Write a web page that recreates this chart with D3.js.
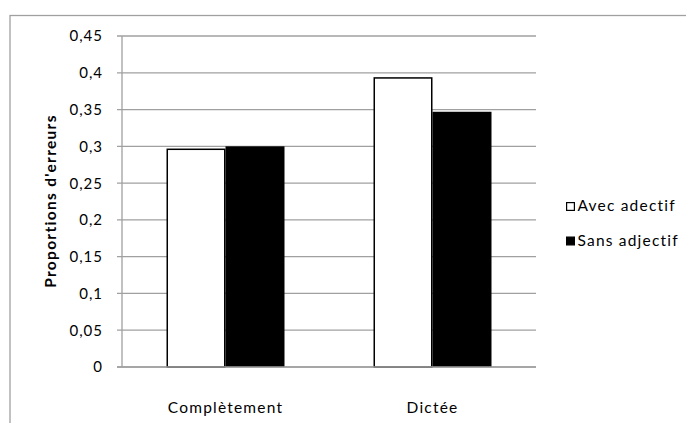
<!DOCTYPE html>
<html><head><meta charset="utf-8">
<script src="https://cdn.jsdelivr.net/npm/d3@7"></script>
<style>
html,body{margin:0;padding:0;background:#fff;}
text{font-family:Lato,"Open Sans",sans-serif;fill:#000;}
</style></head>
<body>
<svg id="chart" width="686" height="423"></svg>
<script>
const categories = ["Complètement", "Dictée"];
const seriesNames = ["Avec adectif", "Sans adjectif"];
const avecValues = [0.297, 0.394];
const sansValues = [0.300, 0.347];
const yTicks = [0, 0.05, 0.1, 0.15, 0.2, 0.25, 0.3, 0.35, 0.4, 0.45];
const yTickLabels = ["0", "0,05", "0,1", "0,15", "0,2", "0,25", "0,3", "0,35", "0,4", "0,45"];
const yTitle = "Proportions d'erreurs";

const svg = d3.select("#chart");
const m = {left: 122, right: 536, top: 36, bottom: 367};
const grid = "#a0a0a0";

// outer border (extends past viewport on right and bottom)
svg.append("rect").attr("x", 10).attr("y", 15.5).attr("width", 700).attr("height", 430)
  .attr("fill", "none").attr("stroke", grid).attr("stroke-width", 1.3);

const y = d3.scaleLinear().domain([0, 0.45]).range([m.bottom, m.top]);
const x0 = d3.scaleBand().domain(categories).range([m.left, m.right]).paddingInner(0.43).paddingOuter(0.215);
const x1 = d3.scaleBand().domain(seriesNames).range([0, x0.bandwidth()]);

// gridlines + ticks
svg.append("g").selectAll("line").data(yTicks).join("line")
  .attr("x1", m.left - 5).attr("x2", m.right)
  .attr("y1", d => y(d)).attr("y2", d => y(d))
  .attr("stroke", grid).attr("stroke-width", 1.3);

// y axis line
svg.append("line").attr("x1", m.left).attr("x2", m.left).attr("y1", m.top).attr("y2", m.bottom)
  .attr("stroke", grid).attr("stroke-width", 1.3);

// tick labels
svg.append("g").selectAll("text").data(yTicks).join("text")
  .attr("x", 103).attr("y", d => y(d)).attr("dy", "0.36em")
  .attr("text-anchor", "end").attr("font-size", 15).attr("letter-spacing", 1.0)
  .text((d, i) => yTickLabels[i]);

// bars
const data = categories.map((c, i) => ({cat: c, vals: [avecValues[i], sansValues[i]]}));
const g = svg.append("g").selectAll("g").data(data).join("g")
  .attr("transform", d => `translate(${x0(d.cat)},0)`);
g.selectAll("rect").data(d => d.vals.map((v, j) => ({s: seriesNames[j], v, j}))).join("rect")
  .attr("x", d => x1(d.s) + (d.j === 0 ? 0.75 : 0))
  .attr("width", d => x1.bandwidth() - (d.j === 0 ? 1.5 : 0))
  .attr("y", d => y(d.v) + (d.j === 0 ? 0.75 : 0))
  .attr("height", d => m.bottom - y(d.v) - (d.j === 0 ? 0.75 : 0))
  .attr("fill", d => d.j === 0 ? "#fff" : "#000")
  .attr("stroke", d => d.j === 0 ? "#000" : "none")
  .attr("stroke-width", 1.5);

// x axis line
svg.append("line").attr("x1", m.left - 5).attr("x2", m.right).attr("y1", m.bottom).attr("y2", m.bottom)
  .attr("stroke", grid).attr("stroke-width", 1.3);

// category labels
svg.append("g").selectAll("text").data(categories).join("text")
  .attr("x", d => x0(d) + x0.bandwidth() / 2).attr("y", 413)
  .attr("text-anchor", "middle").attr("font-size", 15.5).attr("letter-spacing", 1.2)
  .text(d => d);

// y title
svg.append("text").attr("transform", "translate(56,201) rotate(-90)")
  .attr("text-anchor", "middle").attr("font-size", 15.5).attr("font-weight", "bold")
  .attr("letter-spacing", 1.3)
  .text(yTitle);

// legend
const leg = svg.append("g").selectAll("g").data(seriesNames).join("g")
  .attr("transform", (d, i) => `translate(566,${202 + i * 34.5})`);
leg.append("rect").attr("x", 0.6).attr("y", 0.6).attr("width", 7.8).attr("height", 7.8)
  .attr("fill", (d, i) => i === 0 ? "#fff" : "#000").attr("stroke", "#000").attr("stroke-width", 1.2);
leg.append("text").attr("x", 11.5).attr("y", 9).attr("font-size", 15.5).attr("letter-spacing", 1.2)
  .text(d => d);
</script>
</body></html>
